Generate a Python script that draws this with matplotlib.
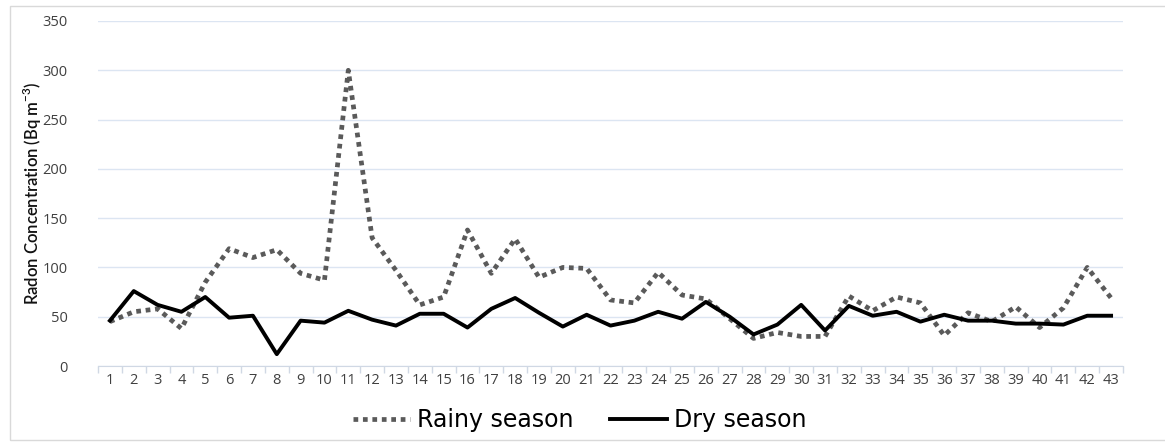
import matplotlib
matplotlib.use("Agg")
import matplotlib.pyplot as plt
from matplotlib.patches import Rectangle

# sampling sites and radon levels (Bq m-3) for each season
sites = list(range(1, 44))
rainy = [45, 55, 58, 38, 85, 119, 110, 118, 94, 87, 300, 130, 97, 62, 70,
         138, 94, 129, 90, 100, 99, 67, 64, 95, 72, 68, 48, 28, 34, 30,
         30, 71, 56, 70, 64, 31, 54, 45, 60, 39, 59, 100, 69]
dry = [46, 76, 62, 55, 70, 49, 51, 12, 46, 44, 56, 47, 41, 53, 53,
       39, 58, 69, 54, 40, 52, 41, 46, 55, 48, 65, 50, 32, 42, 62,
       36, 61, 51, 55, 45, 52, 46, 46, 43, 43, 42, 51, 51]
yticks = [0, 50, 100, 150, 200, 250, 300, 350]

plt.rcParams["font.family"] = ["Open Sans", "DejaVu Sans"]

fig = plt.figure(figsize=(11.65, 4.46), dpi=100)
ax = fig.add_axes([98 / 1165, 1 - 366 / 446, 1025 / 1165, 345 / 446])

# light frame around the whole chart
fig.patches.append(Rectangle((10 / 1165, 6 / 446), 1.0, 434 / 446,
                             transform=fig.transFigure, fill=False,
                             edgecolor="#d9d9d9", linewidth=1.0))

ax.plot(sites, rainy, color="#5a5a5a", linewidth=3.4,
        linestyle=(0, (1, 1)), dash_capstyle="butt", label="Rainy season")
ax.plot(sites, dry, color="black", linewidth=2.8, label="Dry season")

ax.set_xlim(0.5, 43.5)
ax.set_ylim(0, 350)
ax.set_yticks(yticks)
ax.set_xticks(sites)
ax.set_xticks([s + 0.5 for s in [0] + sites], minor=True)
ax.tick_params(axis="x", which="major", length=0, pad=5, labelsize=10.5,
               labelcolor="#404040")
ax.tick_params(axis="x", which="minor", length=5, color="#d0d8e4", width=1)
ax.tick_params(axis="y", length=0, pad=22, labelsize=10.5, labelcolor="#404040")

ax.grid(axis="y", color="#dce5f2", linewidth=1)
ax.set_axisbelow(True)
for side in ["top", "right", "left"]:
    ax.spines[side].set_visible(False)
ax.spines["bottom"].set_color("#d0d8e4")

ax.set_ylabel("Radon Concentration (Bq m$^{\\mathregular{-3}}$)", fontsize=12,
              family=["Lato", "DejaVu Sans"], fontweight="semibold",
              color="#111111")
ax.yaxis.set_label_coords(-54 / 1025, 0.5)

fig.legend(loc="center", bbox_to_anchor=(580 / 1165, 1 - 420 / 446), ncol=2,
           frameon=False, handlelength=2.4, handletextpad=0.3,
           columnspacing=1.55, prop={"family": ["DejaVu Sans"], "size": 17})

fig.savefig("out.png", dpi=100)
